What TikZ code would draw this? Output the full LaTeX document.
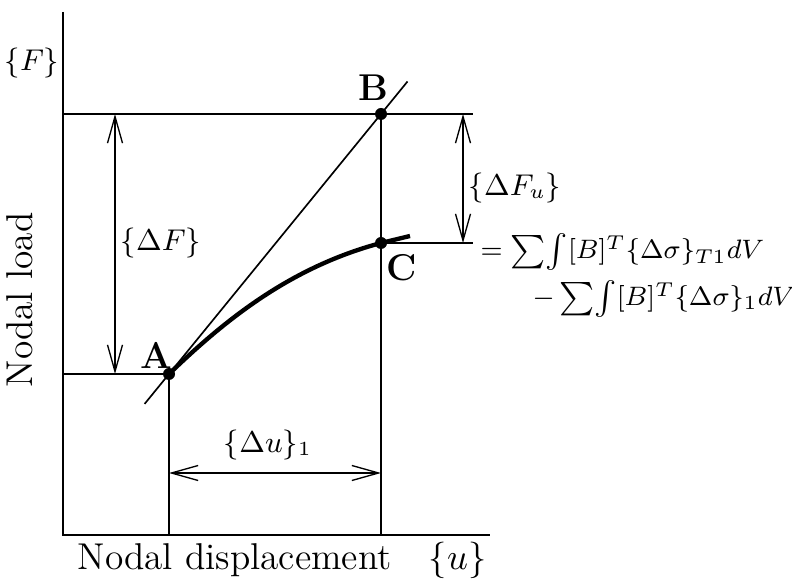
\documentclass[tikz,border=0pt]{standalone}
\usetikzlibrary{arrows.meta,calc}
\begin{document}
\begin{tikzpicture}[x=0.3pt,y=0.3pt,
  font=\fontsize{11.2}{13}\selectfont,
  dot/.style={circle,fill=black,inner sep=0pt,minimum size=3.6pt},
  dim/.style={{Straight Barb[length=8pt,width=4.5pt]}-{Straight Barb[length=8pt,width=4.5pt]},line width=0.4pt},
  ln/.style={line width=0.5pt},
  mlbl/.style={font=\fontsize{9}{11}\selectfont},
  eqlbl/.style={anchor=west,inner sep=0pt,font=\fontsize{8.3}{10}\selectfont}]
  \useasboundingbox (0,0) rectangle (792,579);
  % axes
  \coordinate (O) at (63,44);
  \draw[ln] (63,567) -- (O) -- (490,44);
  % points
  \node[dot] (A) at (169,205) {};
  \node[dot] (B) at (381,465) {};
  \node[dot] (C) at (381,336) {};
  % projection lines
  \draw[ln] (63,205) -- (A.center) -- (169,44);
  \draw[ln] (63,465) -- (B.center) -- (381,44);
  \draw[ln] (B.center) -- (473,465);
  \draw[ln] (C.center) -- (473,336);
  % secant through A and B
  \draw[ln] ($(A.center)!-0.115!(B.center)$) -- ($(B.center)!-0.125!(A.center)$);
  % load path
  \draw[line width=1.3pt] (A.center) .. controls (226,260) and (291,312) .. (C.center)
    -- (410,343);
  % dimension arrows
  \draw[dim] (115,465) -- (115,205);
  \draw[dim] (463,465) -- (463,336);
  \draw[dim] (169,106) -- (381,106);
  % labels
  \node (lA) at (156,224) {\textbf{A}};
  \node (lB) at (373,491) {\textbf{B}};
  \node (lC) at (402,311) {\textbf{C}};
  \node[mlbl] (dF) at (161,336) {$\{\Delta F\}$};
  \node[mlbl] (dFu) at (515,391) {$\{\Delta F_u\}$};
  \node[mlbl] (du) at (268,134) {$\{\Delta u\}_1$};
  \node[mlbl] (F) at (32,516) {$\{F\}$};
  \node[rotate=90] (ylab) at (20,279) {Nodal load};
  \node (xlab) at (282,19) {Nodal displacement\quad $\{u\}$};
  \node[eqlbl] (eq1) at (480,327)
    {$=\sum\!\int[B]^T\{\Delta\sigma\}_{T1}dV$};
  \node[eqlbl] (eq2) at (532,280)
    {$-\sum\!\int[B]^T\{\Delta\sigma\}_1dV$};
\end{tikzpicture}
\end{document}
